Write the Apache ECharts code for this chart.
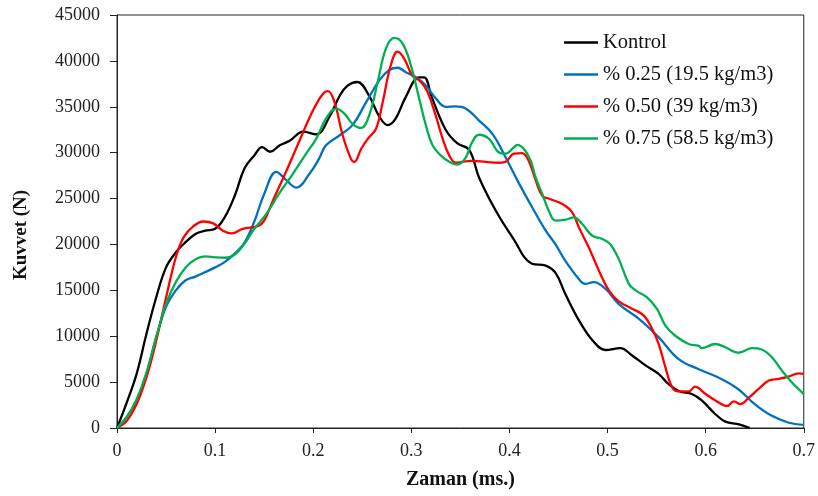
<!DOCTYPE html>
<html>
<head>
<meta charset="utf-8">
<script src="https://cdn.jsdelivr.net/npm/echarts@6/dist/echarts.min.js"></script>
<style>html,body{margin:0;padding:0;background:#fff}#c{width:818px;height:496px}</style>
</head>
<body>
<div id="c"></div>
<script>
// ---- data ----
const seriesNames = ['Kontrol', '% 0.25 (19.5 kg/m3)', '% 0.50 (39 kg/m3)', '% 0.75 (58.5 kg/m3)'];
const xTicks = [0, 0.1, 0.2, 0.3, 0.4, 0.5, 0.6, 0.7];
const yTicks = [0, 5000, 10000, 15000, 20000, 25000, 30000, 35000, 40000, 45000];

const tKontrol = [0,0.01,0.02,0.03,0.04,0.05,0.06,0.07,0.08,0.09,0.10,0.11,0.12,0.13,0.14,0.148,0.156,0.166,0.176,0.19,0.203,0.217,0.227,0.235,0.245,0.257,0.267,0.276,0.284,0.294,0.308,0.313,0.321,0.335,0.347,0.359,0.369,0.386,0.403,0.423,0.437,0.447,0.457,0.471,0.485,0.498,0.513,0.525,0.539,0.552,0.562,0.573,0.586,0.596,0.61,0.62,0.634,0.645];
const vKontrol = [0,2800,5900,10250,14250,17500,19150,20250,21150,21500,21700,23000,25300,28300,29700,30600,30100,30800,31300,32300,32000,34000,36200,37300,37700,36200,34000,33000,33700,36000,38200,38200,36000,32500,31000,30300,27300,23700,20800,17900,17700,16900,14600,11700,9500,8500,8700,7900,6800,5900,4800,4000,3700,3000,1500,700,400,0];

const t025 = [0,0.01,0.02,0.03,0.04,0.05,0.06,0.07,0.08,0.09,0.10,0.11,0.12,0.13,0.14,0.15,0.1624,0.1726,0.1828,0.1962,0.2057,0.213,0.227,0.24,0.254,0.2675,0.2776,0.286,0.294,0.305,0.315,0.325,0.335,0.345,0.355,0.369,0.383,0.396,0.41,0.4234,0.437,0.447,0.457,0.471,0.477,0.486,0.498,0.5115,0.532,0.552,0.5725,0.593,0.613,0.633,0.65,0.667,0.684,0.7];
const v025 = [0,1200,3000,5900,9900,13200,15000,16100,16500,17000,17500,18100,19000,20200,22500,25500,27900,27000,26200,27700,29300,30800,31900,33000,35500,37900,39000,39250,38800,38200,37300,35900,35000,35050,34850,33500,32000,29500,26600,24000,21500,20000,18200,16200,15700,15900,15150,13500,11900,9900,7500,6400,5500,4250,2600,1350,600,350];

const t050 = [0,0.01,0.02,0.03,0.04,0.05,0.06,0.068,0.078,0.088,0.098,0.108,0.117,0.128,0.1437,0.15,0.159,0.1726,0.186,0.1997,0.2098,0.215,0.2217,0.23,0.2386,0.242,0.2488,0.2556,0.264,0.2708,0.279,0.286,0.293,0.301,0.3098,0.3166,0.325,0.332,0.3386,0.3454,0.352,0.362,0.376,0.388,0.396,0.4047,0.413,0.4197,0.4267,0.4335,0.44,0.454,0.464,0.4706,0.4808,0.491,0.5013,0.5115,0.525,0.537,0.5454,0.552,0.559,0.566,0.5725,0.583,0.589,0.6,0.61,0.622,0.6286,0.6355,0.644,0.654,0.664,0.6745,0.6845,0.695,0.7];
const v050 = [0,800,2600,5500,9500,14200,18600,20800,22000,22500,22300,21500,21200,21700,22000,22600,24800,28000,31300,34600,36400,36700,35500,31900,29300,29000,30400,31500,32600,35500,39500,41000,40200,38400,37700,36600,34000,31500,29700,28900,29000,29100,29000,28900,29000,29900,29950,29100,27000,25300,25000,24400,23500,21900,19700,17200,15000,13800,13000,12250,10800,9200,6600,4400,4000,4000,4500,3700,3000,2400,2900,2600,3300,4250,5150,5350,5600,5950,5900];

const t075 = [0,0.01,0.02,0.03,0.04,0.05,0.06,0.07,0.08,0.09,0.10,0.11,0.12,0.13,0.14,0.152,0.165,0.1793,0.1928,0.203,0.213,0.2234,0.2318,0.24,0.2488,0.257,0.2657,0.274,0.2826,0.291,0.2996,0.308,0.3148,0.3216,0.33,0.3386,0.347,0.3556,0.362,0.369,0.3793,0.389,0.396,0.4047,0.408,0.4148,0.4216,0.4267,0.4335,0.44,0.447,0.4573,0.4657,0.474,0.4844,0.4946,0.503,0.5115,0.5217,0.5285,0.54,0.5505,0.559,0.569,0.5827,0.593,0.596,0.6098,0.62,0.6335,0.6474,0.6573,0.6675,0.6777,0.688,0.7];
const v075 = [0,1200,3150,6050,9900,13500,15900,17500,18400,18700,18600,18550,18900,20100,21700,23300,25500,27700,29900,31500,33700,34800,34250,33150,32700,34050,37700,41300,42500,41900,39500,35900,33000,30800,29700,29000,28700,29500,31150,31950,31500,30050,29900,30600,30850,30400,29150,27300,25500,23700,22600,22700,22950,22250,20950,20600,20000,18400,15700,15000,14250,12950,11150,10050,9150,8950,8700,9150,8800,8200,8700,8550,7700,6250,4950,3700];

const colors = ['#000000', '#0070C0', '#FF0000', '#00B050'];

// ---- chart ----
const pairs = (ts, vs) => ts.map((t, i) => [t, vs[i]]);
const dataSets = [pairs(tKontrol, vKontrol), pairs(t025, v025), pairs(t050, v050), pairs(t075, v075)];
const serif = '"Liberation Serif", "Times New Roman", serif';

const chart = echarts.init(document.getElementById('c'), null, {renderer: 'canvas'});
chart.setOption({
  animation: false,
  backgroundColor: '#fff',
  grid: {left: 117, right: 12, top: 15, bottom: 68, show: true, borderColor: '#222', borderWidth: 1, backgroundColor: 'transparent'},
  legend: {
    data: seriesNames,
    orient: 'vertical',
    left: 559, top: 27,
    itemWidth: 34, itemHeight: 14, itemGap: 11,
    textStyle: {fontFamily: serif, fontSize: 20.5, color: '#111', lineHeight: 20},
    icon: 'path://M0,0 L10,0 L10,0.7 L0,0.7 Z'
  },
  xAxis: {
    type: 'value', min: xTicks[0], max: xTicks[xTicks.length - 1], interval: 0.1,
    name: 'Zaman (ms.)', nameLocation: 'middle', nameGap: 42,
    nameTextStyle: {fontFamily: serif, fontSize: 20, fontWeight: 'bold', color: '#111'},
    axisLine: {lineStyle: {color: '#222', width: 1}},
    axisTick: {show: true, inside: false, length: 5, lineStyle: {color: '#222'}},
    splitLine: {show: false},
    axisLabel: {fontFamily: serif, fontSize: 18, color: '#222', margin: 14, formatter: v => String(+v.toFixed(1))}
  },
  yAxis: {
    type: 'value', min: yTicks[0], max: yTicks[yTicks.length - 1], interval: 5000,
    name: 'Kuvvet (N)', nameLocation: 'middle', nameGap: 86,
    nameTextStyle: {fontFamily: serif, fontSize: 19, fontWeight: 'bold', color: '#111', padding: [0, 27, 0, 0]},
    axisLine: {show: true, lineStyle: {color: '#222', width: 1}},
    axisTick: {show: true, inside: false, length: 7, lineStyle: {color: '#222'}},
    splitLine: {show: false},
    axisLabel: {fontFamily: serif, fontSize: 18, color: '#222', margin: 17, formatter: v => String(v)}
  },
  series: seriesNames.map((n, i) => ({
    name: n, type: 'line', data: dataSets[i],
    smooth: 0.4, symbol: 'none', showSymbol: false,
    lineStyle: {color: colors[i], width: 2.3},
    itemStyle: {color: colors[i]},
    clip: true
  }))
});
</script>
</body>
</html>
